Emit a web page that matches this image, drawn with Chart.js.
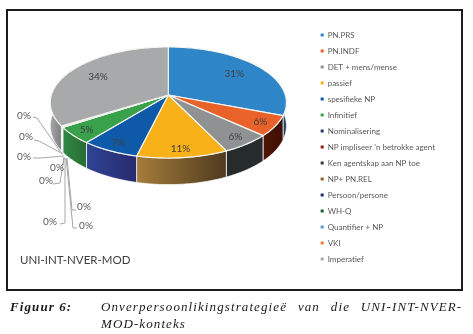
<!DOCTYPE html>
<html>
<head>
<meta charset="utf-8">
<style>
    html, body { margin: 0; padding: 0; background: #fff; }
    #wrap { position: relative; width: 473px; height: 334px; overflow: hidden; filter: blur(0.35px); }
    #frame { position: absolute; left: 6px; top: 9px; width: 453px; height: 278px; border: 2px solid #1c1c1c; }
    #naam { position: absolute; left: 20px; top: 253px; font: 11.5px Lato, sans-serif; color: #404040; }
    .onder { position: absolute; font: italic 13px "Liberation Serif", serif; letter-spacing: 1.1px; color: #1a1a1a; white-space: nowrap; }
</style>
</head>
<body>
<div id="wrap">
    <canvas id="grafiek" width="473" height="334"></canvas>
    <div id="frame"></div>
    <div id="naam">UNI-INT-NVER-MOD</div>
    <div class="onder" style="left:10px;top:299px;font-weight:bold">Figuur 6:</div>
    <div class="onder" style="left:101px;top:299px;word-spacing:6.5px">Onverpersoonlikingstrategieë van die UNI-INT-NVER-</div>
    <div class="onder" style="left:101px;top:316px">MOD-konteks</div>
</div>
<script src="https://cdn.jsdelivr.net/npm/chart.js@4/dist/chart.umd.min.js"></script>
<script>
const categories = ["PN.PRS", "PN.INDF", "DET + mens/mense", "passief", "spesifieke NP", "Infinitief",
    "Nominalisering", "NP impliseer 'n betrokke agent", "Ken agentskap aan NP toe", "NP+ PN.REL",
    "Persoon/persone", "WH-Q", "Quantifier + NP", "VKI", "Imperatief"];
const values = [31, 6, 6, 11, 7, 5, 0.05, 0.05, 0.05, 0.05, 0.05, 0.05, 0.05, 0.05, 34];
const topColors = ["#2e86c9", "#e8622a", "#8f9192", "#f8b118", "#0e5aa8", "#3aa14b", "#1f3864", "#8c1d12",
    "#33383a", "#8a6428", "#1f2f70", "#1f5a2c", "#5b9bd5", "#ed7d31", "#a7a9aa"];
const wallLeft = ["#1d3f66", "#4f1606", "#262b2d", "#a57c3a", "#2f4494", "#2f8a45", "#1f3864", "#8c1d12",
    "#33383a", "#8a6428", "#1f2f70", "#1f5a2c", "#5b9bd5", "#ed7d31", "#a0a1a2"];
const wallRight = ["#1d3f66", "#3c0f02", "#262b2d", "#4f3a1e", "#28296e", "#2a6b33", "#1f3864", "#8c1d12",
    "#33383a", "#8a6428", "#1f2f70", "#1f5a2c", "#5b9bd5", "#ed7d31", "#7d7e7f"];

// 0%-etikette met hulle leierlyne: [teks x, teks y, knik x, knik y, anker x, anker y, einde x, einde y]
const leiers = [
    [24, 116, 37, 118, 62, 154, 33, 117],
    [26, 137, 39, 141, 63, 154, 34, 140],
    [24, 157, 40, 158, 64, 156, 33, 158],
    [57, 168, 63, 165, 64, 157, 63, 165],
    [46, 181, 60, 183, 64, 158, 53, 184],
    [50, 222, 65, 223, 65, 158, 60, 224],
    [84, 207, 72, 210, 67, 158, 76, 210],
    [86, 226, 73, 228, 66, 158, 77, 228]
];

const tilt = 0.466;
const persp = 0.135;
const wallDepth = 23;
const totaal = values.reduce((a, b) => a + b, 0);

// Projekteer 'n punt op die sirkel na die skuins skerm-vlak
function projek(arc, angle, frac) {
    const u = Math.cos(angle) * frac;
    const v = Math.sin(angle) * frac;
    const s = 1 / (1 - persp * v);
    return {
        x: arc.x + arc.outerRadius * u * s,
        y: arc.cy + arc.outerRadius * tilt * v * s,
        s: s
    };
}

function tekenMure(ctx, arc, i) {
    const start = Math.max(arc.startAngle, -0.05);
    const end = Math.min(arc.endAngle, Math.PI + 0.05);
    if (end <= start) return;
    const a = projek(arc, start, 1);
    const b = projek(arc, end, 1);
    const grad = ctx.createLinearGradient(Math.min(a.x, b.x), 0, Math.max(a.x, b.x), 0);
    grad.addColorStop(0, wallLeft[i]);
    grad.addColorStop(1, wallRight[i]);
    ctx.beginPath();
    const stappe = 40;
    for (let k = 0; k <= stappe; k++) {
        const p = projek(arc, start + (end - start) * k / stappe, 1);
        if (k === 0) ctx.moveTo(p.x, p.y); else ctx.lineTo(p.x, p.y);
    }
    for (let k = stappe; k >= 0; k--) {
        const p = projek(arc, start + (end - start) * k / stappe, 1);
        ctx.lineTo(p.x, p.y + wallDepth * p.s);
    }
    ctx.closePath();
    ctx.fillStyle = grad;
    ctx.fill();
    ctx.strokeStyle = "rgba(255,255,255,0.75)";
    ctx.lineWidth = 1;
    ctx.stroke();
}

function tekenBokant(ctx, arc, i) {
    ctx.beginPath();
    ctx.moveTo(arc.x, arc.cy);
    const stappe = Math.max(2, Math.ceil((arc.endAngle - arc.startAngle) * 40));
    for (let k = 0; k <= stappe; k++) {
        const p = projek(arc, arc.startAngle + (arc.endAngle - arc.startAngle) * k / stappe, 1);
        ctx.lineTo(p.x, p.y);
    }
    ctx.closePath();
    ctx.fillStyle = topColors[i];
    ctx.fill();
    ctx.strokeStyle = "#f4f4f0";
    ctx.lineWidth = 1.2;
    ctx.stroke();
}

const pie3d = {
    id: "pie3d",
    beforeDatasetDraw(chart) {
        const ctx = chart.ctx;
        const arcs = chart.getDatasetMeta(0).data.map((el) => {
            const p = el.getProps(["x", "y", "startAngle", "endAngle", "outerRadius"], true);
            return { x: p.x, cy: chart.chartArea.top + 72, startAngle: p.startAngle, endAngle: p.endAngle, outerRadius: p.outerRadius };
        });
        ctx.save();
        ctx.lineJoin = "round";
        arcs.forEach((arc, i) => tekenMure(ctx, arc, i));
        arcs.forEach((arc, i) => tekenBokant(ctx, arc, i));

        // leierlyne vir die 0%-skywe
        ctx.strokeStyle = "#a6a6a6";
        ctx.lineWidth = 1;
        leiers.forEach((l) => {
            ctx.beginPath();
            ctx.moveTo(l[6], l[7]);
            ctx.lineTo(l[2], l[3]);
            ctx.lineTo(l[4], l[5]);
            ctx.stroke();
        });

        ctx.font = "10px Lato, sans-serif";
        ctx.textAlign = "center";
        ctx.textBaseline = "middle";
        let z = 0;
        arcs.forEach((arc, i) => {
            const persent = Math.round(values[i] / totaal * 100);
            if (persent === 0) {
                const l = leiers[z++];
                ctx.fillStyle = "#595959";
                ctx.fillText("0%", l[0], l[1]);
            } else {
                const frac = values[i] >= 30 ? 0.72 : 0.87;
                const p = projek(arc, (arc.startAngle + arc.endAngle) / 2, frac);
                ctx.fillStyle = "#404040";
                ctx.fillText(persent + "%", p.x, p.y);
            }
        });
        ctx.restore();
        return false;
    }
};

new Chart(document.getElementById("grafiek"), {
    type: "pie",
    data: {
        labels: categories,
        datasets: [{ data: values, backgroundColor: topColors, borderWidth: 0 }]
    },
    options: {
        responsive: false,
        animation: false,
        radius: 117,
        layout: { padding: { left: 24, top: 23, right: 28, bottom: 30 } },
        plugins: {
            tooltip: { enabled: false },
            legend: {
                position: "right",
                align: "start",
                labels: {
                    usePointStyle: true,
                    pointStyle: "rect",
                    boxWidth: 3,
                    boxHeight: 3,
                    padding: 8,
                    color: "#595959",
                    font: { family: "Lato, sans-serif", size: 8 }
                }
            }
        }
    },
    plugins: [pie3d]
});
</script>
</body>
</html>
